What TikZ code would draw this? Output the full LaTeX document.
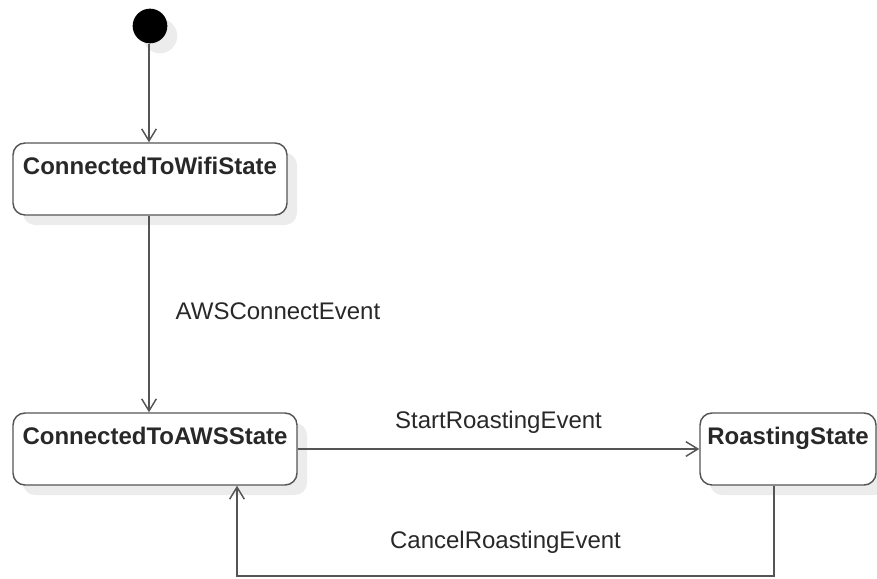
\documentclass[tikz,border=0pt]{standalone}
\usepackage{fontspec}
\setmainfont{Liberation Sans}
\usetikzlibrary{positioning,arrows.meta,shadows}
\definecolor{linegray}{RGB}{85,85,85}
\definecolor{textgray}{RGB}{40,40,40}
\definecolor{shadowgray}{RGB}{236,236,236}
\tikzset{
  state/.style={draw=linegray, line width=1.1pt, fill=white, rounded corners=9pt,
    text=textgray, font=\fontsize{18}{21}\selectfont\bfseries,
    inner ysep=0pt, text height=23.25pt, text depth=30.75pt,
    drop shadow={shadow xshift=7.5pt, shadow yshift=-7.5pt, fill=shadowgray, opacity=1}},
  initial/.style={circle, fill=black, minimum size=26pt, inner sep=0pt,
    drop shadow={shadow xshift=7.5pt, shadow yshift=-7.5pt, fill=shadowgray, opacity=1}},
  trans/.style={draw=linegray, line width=1.1pt, -{Straight Barb[length=9pt, width=11pt, line width=1.1pt]}},
  evt/.style={text=textgray, font=\fontsize{18}{21}\selectfont, inner sep=0pt, anchor=base}
}
\begin{document}
\begin{tikzpicture}[x=0.75pt, y=-0.75pt]
  \useasboundingbox (0,0) rectangle (877,578);

  % states
  \node[initial] (start) at (150,26) {};
  \node[state, minimum width=205.5pt] (wifi) at (150,179) {ConnectedToWifiState};
  \node[state, minimum width=213pt] (aws) at (155,449) {ConnectedToAWSState};
  \node[state, minimum width=132pt] (roast) at (788,449) {RoastingState};
  \coordinate (back) at (237,576);

  % transitions
  \draw[trans] (start.south -| 149,0) -- (wifi.north -| 149,0);
  \draw[trans] (wifi.south -| 149,0) -- node[evt, anchor=base west, xshift=19.5pt, yshift=-3.75pt] {AWSConnectEvent} (aws.north -| 149,0);
  \draw[trans] (aws.east) -- node[evt, yshift=15.75pt] {StartRoastingEvent} (roast.west);
  \draw[trans] ([xshift=-10.5pt]roast.south) |- node[evt, pos=0.75, yshift=21pt] {CancelRoastingEvent} (back) -- (back |- aws.south);
\end{tikzpicture}
\end{document}
